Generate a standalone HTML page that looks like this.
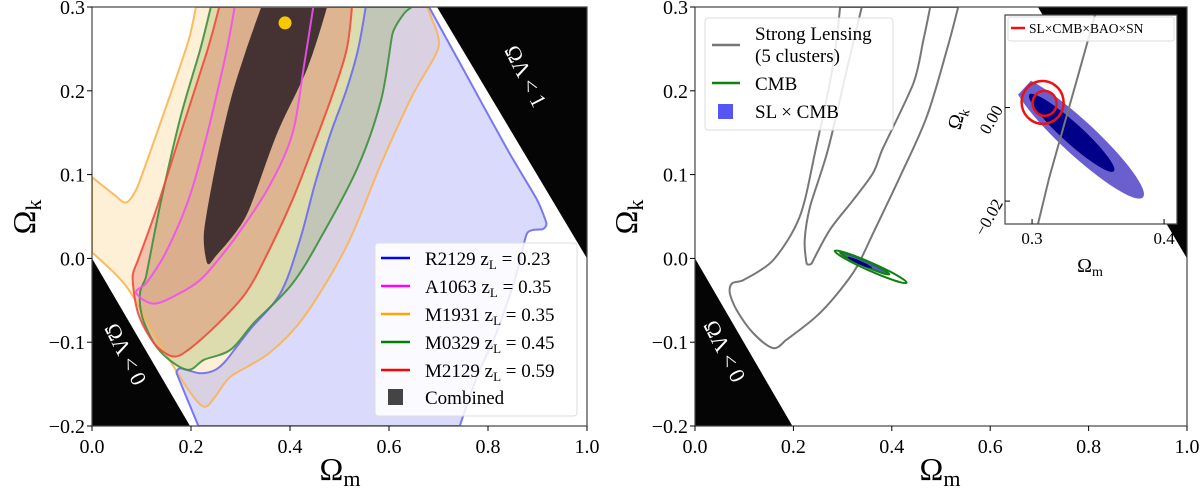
<!DOCTYPE html>
<html><head><meta charset="utf-8"><style>
html,body{margin:0;padding:0;background:#fff;}
svg{display:block;font-family:"Liberation Serif",serif;}
</style></head><body>
<svg id="c" width="1200" height="493" viewBox="0 0 1200 493" xmlns="http://www.w3.org/2000/svg">
<defs>
<clipPath id="clipL"><rect x="92" y="7" width="495" height="419"/></clipPath>
<clipPath id="clipR"><rect x="695" y="7" width="492" height="419"/></clipPath>
<clipPath id="clipI"><rect x="1005" y="15" width="172" height="209"/></clipPath>
</defs>
<g id="left"></g>
<g id="right"></g>
</svg>
<script>
// ---- data (Omega_m, Omega_k) ----
const xTicks = [0.0, 0.2, 0.4, 0.6, 0.8, 1.0];
const xTickLabels = ["0.0","0.2","0.4","0.6","0.8","1.0"];
const yTicks = [-0.2, -0.1, 0.0, 0.1, 0.2, 0.3];
const yTickLabels = ["\u22120.2","\u22120.1","0.0","0.1","0.2","0.3"];
const orangeM1931 = [[0.21,0.30],[0.195,0.26],[0.155,0.19],[0.093,0.087],[0.070,0.067],[0.047,0.075],[0,0.097],[0,0.007],[0.07,-0.034],[0.14,-0.105],[0.195,-0.157],[0.226,-0.177],[0.249,-0.165],[0.28,-0.141],[0.358,-0.113],[0.428,-0.070],[0.514,0.014],[0.584,0.113],[0.646,0.193],[0.70,0.252],[0.685,0.288],[0.677,0.30]];
const blueR2129 = [[0.553,0.30],[0.537,0.248],[0.514,0.201],[0.482,0.149],[0.451,0.090],[0.420,0.022],[0.381,-0.041],[0.319,-0.085],[0.272,-0.121],[0.249,-0.133],[0.218,-0.137],[0.179,-0.131],[0.171,-0.137],[0.215,-0.2],[0.743,-0.2],[0.778,-0.141],[0.817,-0.089],[0.856,-0.022],[0.879,0.030],[0.911,0.035],[0.918,0.042],[0.899,0.070],[0.840,0.129],[0.747,0.229],[0.681,0.30]];
const greenM0329 = [[0.240,0.30],[0.218,0.248],[0.179,0.169],[0.140,0.070],[0.109,-0.022],[0.097,-0.041],[0.101,-0.069],[0.125,-0.101],[0.156,-0.121],[0.195,-0.133],[0.226,-0.121],[0.280,-0.109],[0.327,-0.077],[0.405,-0.030],[0.467,0.030],[0.537,0.109],[0.584,0.189],[0.607,0.268],[0.630,0.292],[0.646,0.30]];
const redM2129 = [[0.257,0.30],[0.233,0.248],[0.179,0.149],[0.132,0.062],[0.093,-0.002],[0.082,-0.022],[0.093,-0.065],[0.125,-0.101],[0.163,-0.117],[0.195,-0.109],[0.249,-0.081],[0.311,-0.041],[0.358,0.010],[0.405,0.070],[0.444,0.129],[0.482,0.189],[0.514,0.248],[0.525,0.30]];
const magentaA1063 = [[0.288,0.30],[0.272,0.248],[0.233,0.149],[0.195,0.070],[0.148,0.006],[0.109,-0.030],[0.089,-0.041],[0.125,-0.054],[0.179,-0.041],[0.218,-0.026],[0.249,-0.006],[0.296,0.030],[0.358,0.086],[0.405,0.149],[0.428,0.229],[0.447,0.30]];
const combined = [[0.342,0.30],[0.475,0.30],[0.436,0.228],[0.374,0.149],[0.311,0.050],[0.249,0.002],[0.233,-0.006],[0.226,0.030],[0.249,0.109],[0.280,0.189],[0.311,0.248]];
const bestFit = [0.39, 0.281];
const slOuter = [[0.295,0.30],[0.28,0.229],[0.245,0.129],[0.213,0.050],[0.159,-0.002],[0.098,-0.026],[0.075,-0.030],[0.071,-0.042],[0.085,-0.062],[0.118,-0.089],[0.159,-0.107],[0.186,-0.097],[0.247,-0.069],[0.295,-0.038],[0.329,-0.010],[0.362,0.030],[0.417,0.098],[0.471,0.169],[0.512,0.249],[0.535,0.30]];
const slInner = [[0.339,0.30],[0.31,0.229],[0.27,0.129],[0.234,0.062],[0.223,0.022],[0.227,-0.006],[0.237,-0.006],[0.274,0.034],[0.322,0.070],[0.362,0.102],[0.38,0.129],[0.444,0.209],[0.464,0.26],[0.478,0.30]];
// ellipses: [centre m, centre k, half-axis end offset dm, dk, minor half-width px]
const cmbOuter = [0.357,-0.010,0.073,-0.019,4];
const cmbInner = [0.345,-0.006,0.050,-0.013,2.5];
const slcmbCore = [0.335,-0.005,0.025,-0.0065,1.8];
const insetBlueOuter = [0.335,-0.0064,0.049,-0.0128,17];
const insetBlueInner = [0.330,-0.0054,0.032,-0.0082,10];
const insetRedOuter = [0.308,0.0011,0.003,-0.0045,21];
const insetRedInner = [0.3095,0.0009,0.002,-0.0026,12];
const insetSLLine = [[0.3477,0.0198],[0.336,0.008],[0.324,-0.004],[0.313,-0.015],[0.3045,-0.0249]];
const insetXTicks = [0.3,0.4];
const insetYTicks = [0.00,-0.02];
const insetYLabels = ["0.00","\u22120.02"];

const NS="http://www.w3.org/2000/svg";
function mk(tag, parent, attrs){const e=document.createElementNS(NS,tag);for(const k in attrs)e.setAttribute(k,attrs[k]);parent.appendChild(e);return e;}
function axis(x0,x1,y0,y1,d0,d1,r0,r1){return {x:v=>x0+(v-d0)/(d1-d0)*(x1-x0), y:v=>y1-(v-r0)/(r1-r0)*(y1-y0)};}
const L = axis(92,587,7,426,0,1,-0.2,0.3);
const R = axis(695,1187,7,426,0,1,-0.2,0.3);
const I = axis(1005,1177,15,224,0.2795,0.4098,-0.0249,0.0198);
function pathOf(pts,ax,close){return pts.map((p,i)=>(i?'L':'M')+ax.x(p[0]).toFixed(1)+' '+ax.y(p[1]).toFixed(1)).join(' ')+(close?' Z':'');}
function tang(p0,p1,p2){
  let tx=(p2[0]-p0[0])/6, ty=(p2[1]-p0[1])/6;
  const len=Math.hypot(tx,ty)||1;
  const lim=0.35*Math.min(Math.hypot(p2[0]-p1[0],p2[1]-p1[1]),Math.hypot(p1[0]-p0[0],p1[1]-p0[1]));
  if(len>lim){tx*=lim/len;ty*=lim/len;}
  return [tx,ty];
}
function onEdge(p){return p[1]>=0.2999||p[1]<=-0.1999||p[0]<=0.0001;}
function smoothOf(pts,ax){
  const P=pts.map(p=>[ax.x(p[0]),ax.y(p[1])]);const n=P.length;
  const T=P.map((p,i)=>onEdge(pts[i])?[0,0]:tang(P[(i-1+n)%n],p,P[(i+1)%n]));
  let d='M'+P[0][0].toFixed(1)+' '+P[0][1].toFixed(1);
  for(let i=0;i<n;i++){
    const j=(i+1)%n,p1=P[i],p2=P[j];
    d+=` C${(p1[0]+T[i][0]).toFixed(1)} ${(p1[1]+T[i][1]).toFixed(1)} ${(p2[0]-T[j][0]).toFixed(1)} ${(p2[1]-T[j][1]).toFixed(1)} ${p2[0].toFixed(1)} ${p2[1].toFixed(1)}`;
  }
  return d+' Z';
}
function ellipse(parent,e,ax,attrs){
  const cx=ax.x(e[0]),cy=ax.y(e[1]);
  const ex=ax.x(e[0]+e[2])-cx, ey=ax.y(e[1]+e[3])-cy;
  const a=Math.hypot(ex,ey), ang=Math.atan2(ey,ex)*180/Math.PI;
  return mk('ellipse',parent,Object.assign({cx:cx,cy:cy,rx:Math.max(a,e[4]),ry:e[4],transform:`rotate(${ang} ${cx} ${cy})`},attrs));
}
function ticks(g,ax,xs,xl,ys,yl,x0,y1){
  xs.forEach((v,i)=>{const x=ax.x(v);mk('line',g,{x1:x,x2:x,y1:y1,y2:y1+5,stroke:'#000','stroke-width':1});
    const t=mk('text',g,{x:x,y:y1+27,'text-anchor':'middle','font-size':20});t.textContent=xl[i];
    
    });
  ys.forEach((v,i)=>{const y=ax.y(v);mk('line',g,{x1:x0-5,x2:x0,y1:y,y2:y,stroke:'#000','stroke-width':1});
    const t=mk('text',g,{x:x0-7,y:y+7,'text-anchor':'end','font-size':20});t.textContent=yl[i];
    
    });
}
function blackRegions(g,ax,clip){
  const b1=mk('path',g,{d:pathOf([[0,0.0],[0.198,-0.2],[0,-0.2]],ax,true),fill:'#050505','clip-path':clip});
  
  
  const b2=mk('path',g,{d:pathOf([[0.697,0.3],[1,0.3],[1,0.0]],ax,true),fill:'#050505','clip-path':clip});
  
  
}
function rotText(g,x,y,ang,str,fs,name){const t=mk('text',g,{x:x,y:y,fill:'#fff','font-size':fs,transform:`rotate(${ang} ${x} ${y})`});t.textContent=str;
  
  }

// ---------- LEFT ----------
const gl=document.getElementById('left');
blackRegions(gl,L,'url(#clipL)');
rotText(gl,104,328,63,'\u03A9\u039B < 0',22,'label-lambda-lt-0');
rotText(gl,504,50,63,'\u03A9\u039B < 1',22,'label-lambda-lt-1');
const series=[
 [orangeM1931,'#fbc97c',0.30,'#f8b551','contour-m1931'],
 [blueR2129,'#9898f6',0.36,'#6a6af2','contour-r2129'],
 [greenM0329,'#8fae4e',0.30,'#3d8f3d','contour-m0329'],
 [redM2129,'#e06a5a',0.34,'#f04a3a','contour-m2129'],
 [magentaA1063,'#d06070',0.08,'#f050f0','contour-a1063']
];
series.forEach(s=>{const p=mk('path',gl,{d:smoothOf(s[0],L),fill:s[1],'fill-opacity':s[2],stroke:'none','clip-path':'url(#clipL)'});
  
  });
const cb=mk('path',gl,{d:smoothOf(combined,L),fill:'#3d2e2e','fill-opacity':0.96,'clip-path':'url(#clipL)'});


series.forEach(s=>{const p=mk('path',gl,{d:smoothOf(s[0],L),fill:'none',stroke:s[3],'stroke-width':2,'stroke-opacity':0.9,'clip-path':'url(#clipL)','stroke-linejoin':'round'});
  
  });
const dot=mk('circle',gl,{cx:L.x(bestFit[0]),cy:L.y(bestFit[1]),r:6.5,fill:'#f7c800'});


mk('rect',gl,{x:92,y:7,width:495,height:419,fill:'none',stroke:'#444','stroke-width':1.2});
ticks(gl,L,xTicks,xTickLabels,yTicks,yTickLabels,92,426);
let t=mk('text',gl,{x:340,y:480,'text-anchor':'middle','font-size':32});t.innerHTML='\u03A9<tspan font-size="22" dy="6">m</tspan>';


t=mk('text',gl,{x:35,y:217,'text-anchor':'middle','font-size':32,transform:'rotate(-90 35 217)'});t.innerHTML='\u03A9<tspan font-size="22" dy="6">k</tspan>';


// legend
const lg=mk('g',gl,{});


mk('rect',lg,{x:375,y:243,width:202,height:173,rx:3,fill:'#fff','fill-opacity':0.85,stroke:'#ddd'});
const legNames=['R2129','A1063','M1931','M0329','M2129'];
const legZ=['0.23','0.35','0.35','0.45','0.59'];
const legCol=['#0000ff','#ff00ff','#ffa500','#008000','#ff0000'];
legNames.forEach((n,i)=>{const y=258+i*28;
  const ln=mk('line',lg,{x1:381,x2:410,y1:y,y2:y,stroke:legCol[i],'stroke-width':2.5});
  
  
  const tx=mk('text',lg,{x:425,y:y+7,'font-size':19});tx.innerHTML=n+' z<tspan font-size="13" dy="4">L</tspan><tspan dy="-4"> = '+legZ[i]+'</tspan>';
  
  });
mk('rect',lg,{x:388,y:389,width:15,height:16,fill:'#444'});
t=mk('text',lg,{x:425,y:404,'font-size':19});t.textContent='Combined';



// ---------- RIGHT ----------
const gr=document.getElementById('right');
blackRegions(gr,R,'url(#clipR)');
rotText(gr,703,325,63,'\u03A9\u039B < 0',22,'label-lambda-lt-0-right');
[slOuter,slInner].forEach((s,i)=>{const p=mk('path',gr,{d:smoothOf(s,R),fill:'none',stroke:'#777','stroke-width':2,'clip-path':'url(#clipR)','stroke-linejoin':'round'});
  
  });
let e=ellipse(gr,cmbOuter,R,{fill:'none',stroke:'#108010','stroke-width':2});


e=ellipse(gr,cmbInner,R,{fill:'#5555dd',stroke:'#108010','stroke-width':2});


e=ellipse(gr,slcmbCore,R,{fill:'#000080',stroke:'none'});


mk('rect',gr,{x:695,y:7,width:492,height:419,fill:'none',stroke:'#444','stroke-width':1.2});
ticks(gr,R,xTicks,xTickLabels,yTicks,yTickLabels,695,426);
t=mk('text',gr,{x:940,y:480,'text-anchor':'middle','font-size':32});t.innerHTML='\u03A9<tspan font-size="22" dy="6">m</tspan>';


t=mk('text',gr,{x:637,y:217,'text-anchor':'middle','font-size':32,transform:'rotate(-90 637 217)'});t.innerHTML='\u03A9<tspan font-size="22" dy="6">k</tspan>';


const lr=mk('g',gr,{});


mk('rect',lr,{x:705,y:18,width:188,height:112,rx:3,fill:'#fff','fill-opacity':0.85,stroke:'#ddd'});
mk('line',lr,{x1:712,x2:740,y1:45,y2:45,stroke:'#777','stroke-width':2.5});
t=mk('text',lr,{x:755,y:40,'font-size':19});t.textContent='Strong Lensing';


t=mk('text',lr,{x:755,y:62,'font-size':19});t.textContent='(5 clusters)';


mk('line',lr,{x1:712,x2:740,y1:83,y2:83,stroke:'#108010','stroke-width':2.5});
t=mk('text',lr,{x:755,y:90,'font-size':19});t.textContent='CMB';


mk('rect',lr,{x:718,y:104,width:15,height:15,fill:'#5555f5'});
t=mk('text',lr,{x:755,y:118,'font-size':19});t.textContent='SL \u00D7 CMB';



// ---------- INSET ----------
const gi=mk('g',gr,{});


mk('rect',gi,{x:1005,y:15,width:172,height:209,fill:'#fff'});
e=ellipse(gi,insetBlueOuter,I,{fill:'#6a5fcf','clip-path':'url(#clipI)'});


e=ellipse(gi,insetBlueInner,I,{fill:'#000088','clip-path':'url(#clipI)'});


let pl=mk('path',gi,{d:pathOf(insetSLLine,I,false),fill:'none',stroke:'#777','stroke-width':2,'clip-path':'url(#clipI)'});


e=ellipse(gi,insetRedOuter,I,{fill:'none',stroke:'#f01010','stroke-width':2.5});


e=ellipse(gi,insetRedInner,I,{fill:'none',stroke:'#f01010','stroke-width':2.5});


mk('rect',gi,{x:1005,y:15,width:172,height:209,fill:'none',stroke:'#444','stroke-width':1.2});
insetXTicks.forEach(v=>{const x=I.x(v);mk('line',gi,{x1:x,x2:x,y1:224,y2:219,stroke:'#000'});
  const tx=mk('text',gi,{x:x,y:244,'text-anchor':'middle','font-size':17});tx.textContent=v.toFixed(1);
  
  });
insetYTicks.forEach((v,i)=>{const y=I.y(v);mk('line',gi,{x1:1005,x2:1010,y1:y,y2:y,stroke:'#000'});
  const tx=mk('text',gi,{x:1000,y:y+4,'text-anchor':'end','font-size':17,transform:`rotate(-60 1000 ${y})`});tx.textContent=insetYLabels[i];
  
  });
t=mk('text',gi,{x:1090,y:272,'text-anchor':'middle','font-size':20});t.innerHTML='\u03A9<tspan font-size="14" dy="4">m</tspan>';


t=mk('text',gi,{x:963,y:120,'text-anchor':'middle','font-size':20,transform:'rotate(-75 963 120)'});t.innerHTML='\u03A9<tspan font-size="14" dy="4">k</tspan>';


mk('rect',gi,{x:1008,y:17,width:166,height:24,rx:2,fill:'#fff','fill-opacity':0.85,stroke:'#ddd'});
mk('line',gi,{x1:1011,x2:1025,y1:28,y2:28,stroke:'#f01010','stroke-width':2.5});
t=mk('text',gi,{x:1029,y:33,'font-size':13.5});t.textContent='SL\u00D7CMB\u00D7BAO\u00D7SN';


</script>
</body></html>
